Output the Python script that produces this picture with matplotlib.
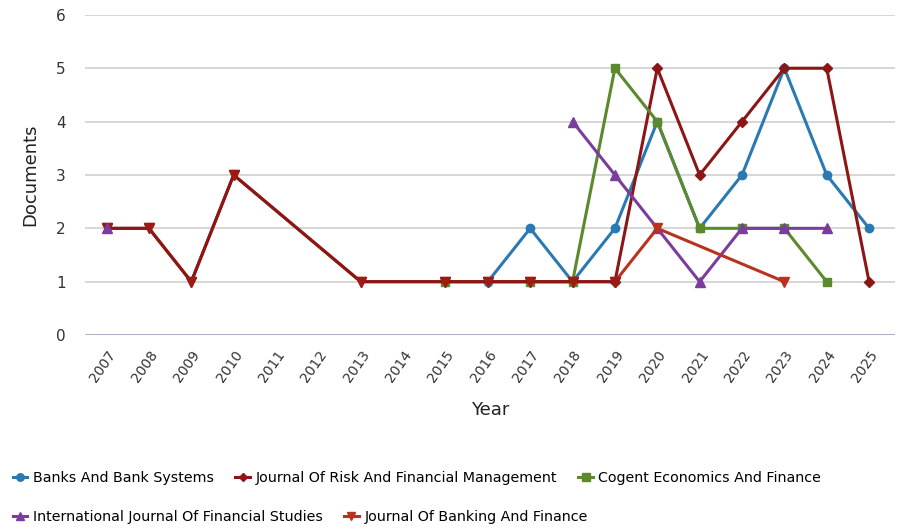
import matplotlib.pyplot as plt

# series: (years, values)
banks_years = [2016, 2017, 2018, 2019, 2020, 2021, 2022, 2023, 2024, 2025]
banks_vals = [1, 2, 1, 2, 4, 2, 3, 5, 3, 2]

risk_years = [2019, 2020, 2021, 2022, 2023, 2024, 2025]
risk_vals = [1, 5, 3, 4, 5, 5, 1]

cogent_years = [2015, 2017, 2018, 2019, 2020, 2021, 2022, 2023, 2024]
cogent_vals = [1, 1, 1, 5, 4, 2, 2, 2, 1]

ijfs_years = [2018, 2019, 2020, 2021, 2022, 2023, 2024]
ijfs_vals = [4, 3, 2, 1, 2, 2, 2]

jbf_years = [2007, 2008, 2009, 2010, 2013, 2015, 2016, 2017, 2018, 2019, 2020, 2023]
jbf_vals = [2, 2, 1, 3, 1, 1, 1, 1, 1, 1, 2, 1]

xticks = list(range(2007, 2026))

fig = plt.figure(figsize=(8.99, 5.31), dpi=100)
ax = fig.add_axes([0.095, 0.369, 0.9, 0.603])

h_banks, = ax.plot(banks_years, banks_vals, color='#2a79b3', marker='o', ms=6, lw=2.2,
                   label='Banks And Bank Systems', zorder=3)
h_risk, = ax.plot(risk_years, risk_vals, color='#8c1515', marker='D', ms=5, lw=2.2,
                  label='Journal Of Risk And Financial Management', zorder=3)
h_cog, = ax.plot(cogent_years, cogent_vals, color='#5b8a2c', marker='s', ms=6, lw=2.2,
                 label='Cogent Economics And Finance', zorder=3)
h_ijfs, = ax.plot(ijfs_years, ijfs_vals, color='#7a3d9e', marker='^', ms=7, lw=2.2,
                  label='International Journal Of Financial Studies', zorder=3)
h_jbf, = ax.plot(jbf_years, jbf_vals, color='#b8321f', marker='v', ms=7, lw=2.2,
                 label='Journal Of Banking And Finance', zorder=3)
# dark red overlay for the early run as it appears in the picture
ax.plot(jbf_years[:10], jbf_vals[:10], color='#8c1515', lw=2.2, zorder=3)
ax.plot(jbf_years[:10], jbf_vals[:10], color='#9a1c14', marker='v', ms=7, lw=0, zorder=4)
ax.plot([2007], [2], color='#7a3d9e', marker='^', ms=7, lw=0, zorder=5)

ax.set_xlim(2006.5, 2025.6)
ax.set_ylim(0, 6)
ax.set_xticks(xticks)
ax.set_xticklabels([str(y) for y in xticks], rotation=55, ha='right', rotation_mode='anchor',
                   fontsize=10, color='#333333')
ax.set_yticks(range(0, 7))
ax.tick_params(axis='y', labelsize=11, colors='#333333', length=0, pad=14)
ax.tick_params(axis='x', length=0, pad=9)
ax.grid(axis='y', color='#d0d0d0', lw=1.2)
ax.axhline(0, color='#a9b8c8', lw=1.5, zorder=2)
for s in ax.spines.values():
    s.set_visible(False)
ax.set_axisbelow(True)

ax.set_xlabel('Year', fontsize=13, color='#222222', labelpad=12)
ax.set_ylabel('Documents', fontsize=13, color='#222222', labelpad=12)

leg_props = {'size': 10.3}
fig.legend(handles=[h_banks, h_risk, h_cog], loc='center left', bbox_to_anchor=(0.0, 0.1),
           ncol=3, frameon=False, prop=leg_props, handlelength=1.0, handletextpad=0.4,
           columnspacing=1.5, markerscale=0.9)
fig.legend(handles=[h_ijfs, h_jbf], loc='center left', bbox_to_anchor=(0.0, 0.027),
           ncol=2, frameon=False, prop=leg_props, handlelength=1.0, handletextpad=0.4,
           columnspacing=1.5, markerscale=0.9)

fig.savefig('out.png', dpi=100)
